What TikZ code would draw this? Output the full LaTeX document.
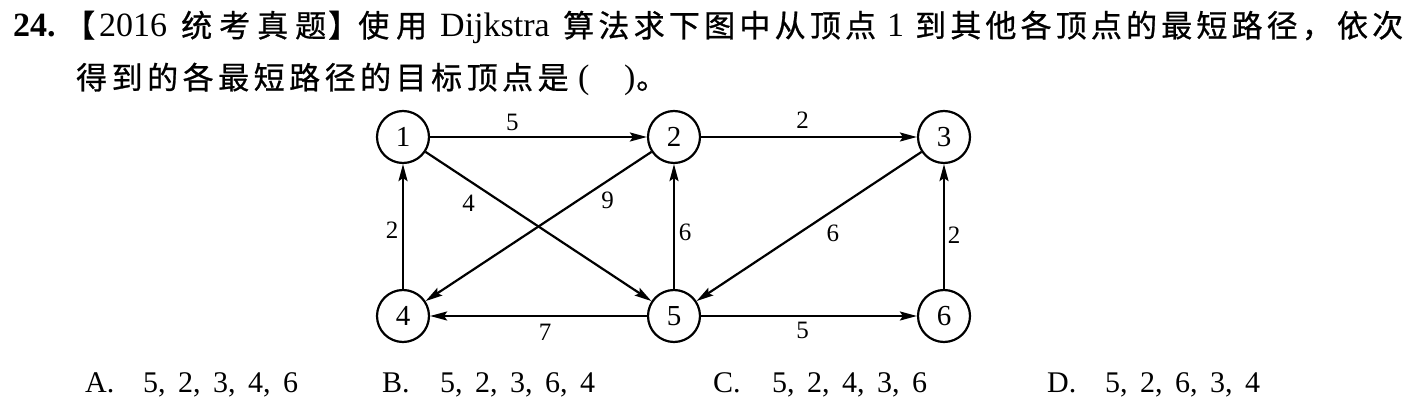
\documentclass[tikz,border=0pt]{standalone}
\usepackage{fontspec}
\setmainfont{Liberation Serif}
\newfontfamily\cjk[FakeBold=0.8]{Noto Sans CJK SC}
\usetikzlibrary{arrows.meta}
\newcommand\optsep{,\hskip 12.5pt}
\begin{document}
\begin{tikzpicture}[x=1pt,y=-1pt,
  vert/.style={circle,draw,line width=2.2pt,minimum size=52pt,inner sep=0pt,font=\fontsize{29}{29}\selectfont},
  arc/.style={line width=2.2pt,-{Stealth[length=17pt,width=9pt,inset=3pt]}},
  wt/.style={font=\fontsize{25}{25}\selectfont,inner sep=0pt},
  txt/.style={anchor=base west,inner sep=0pt,font=\fontsize{34}{34}\selectfont},
  ctxt/.style={anchor=base west,inner sep=0pt,font=\fontsize{31}{31}\selectfont\cjk},
  opt/.style={anchor=base west,inner sep=0pt,font=\fontsize{30}{30}\selectfont}]
\useasboundingbox (0,0) rectangle (1414,403);
% question text, line 1
\node[txt,font=\fontsize{34}{34}\selectfont\bfseries] (qn) at (13,37) {24.};
\node[ctxt] (lb) at (64,37) {【};
\node[txt] (yr) at (99,37) {2016};
\node[ctxt] (t1) at (181,37) {\addfontfeature{LetterSpace=22.6}统考真题};
\node[ctxt] (rb) at (328,37) {】};
\node[ctxt] (t2) at (358,37) {\addfontfeature{LetterSpace=22.6}使用};
\node[txt] (dj) at (440,37) {Dijkstra};
\node[ctxt] (t3) at (563,37) {\addfontfeature{LetterSpace=13.7}算法求下图中从顶点};
\node[txt] (one) at (887,37) {1};
\node[ctxt] (t4) at (915,37) {\addfontfeature{LetterSpace=13.4}到其他各顶点的最短路径，依次};
% line 2
\node[ctxt] (t5) at (76,89) {\addfontfeature{LetterSpace=14.5}得到的各最短路径的目标顶点是};
\node[txt] (pl) at (578,89) {(};
\node[txt] (pr) at (624,89) {)};
\node[ctxt] (stop) at (636,89) {。};
% graph
\node[vert] (n1) at (403,137) {1};
\node[vert] (n2) at (674,137) {2};
\node[vert] (n3) at (944,137) {3};
\node[vert] (n4) at (403,316) {4};
\node[vert] (n5) at (674,316) {5};
\node[vert] (n6) at (944,316) {6};
\draw[arc] (n1) -- node[wt,pos=0.38,yshift=15pt] (w12) {5} (n2);
\draw[arc] (n2) -- node[wt,pos=0.47,yshift=17pt] (w23) {2} (n3);
\draw[arc] (n1) -- node[wt,pos=0.237,xshift=-10.6pt,yshift=-16.1pt] (w15) {4} (n5);
\draw[arc] (n2) -- node[wt,pos=0.233,xshift=8.8pt,yshift=-13.6pt] (w24) {9} (n4);
\draw[arc] (n4) -- node[wt,pos=0.47,xshift=-11pt] (w41) {2} (n1);
\draw[arc] (n5) -- node[wt,pos=0.45,xshift=11pt] (w52) {6} (n2);
\draw[arc] (n3) -- node[wt,pos=0.44,xshift=10.4pt,yshift=-15.9pt] (w35) {6} (n5);
\draw[arc] (n6) -- node[wt,pos=0.43,xshift=10pt] (w63) {2} (n3);
\draw[arc] (n5) -- node[wt,pos=0.47,yshift=-16pt] (w54) {7} (n4);
\draw[arc] (n5) -- node[wt,pos=0.47,yshift=-14pt] (w56) {5} (n6);
% options
\node[opt] (oa) at (85,392) {A.};
\node[opt] (va) at (143,392) {5\optsep 2\optsep 3\optsep 4\optsep 6};
\node[opt] (ob) at (382,392) {B.};
\node[opt] (vb) at (440,392) {5\optsep 2\optsep 3\optsep 6\optsep 4};
\node[opt] (oc) at (713,392) {C.};
\node[opt] (vc) at (772,392) {5\optsep 2\optsep 4\optsep 3\optsep 6};
\node[opt] (od) at (1047,392) {D.};
\node[opt] (vd) at (1105,392) {5\optsep 2\optsep 6\optsep 3\optsep 4};
\end{tikzpicture}
\end{document}
